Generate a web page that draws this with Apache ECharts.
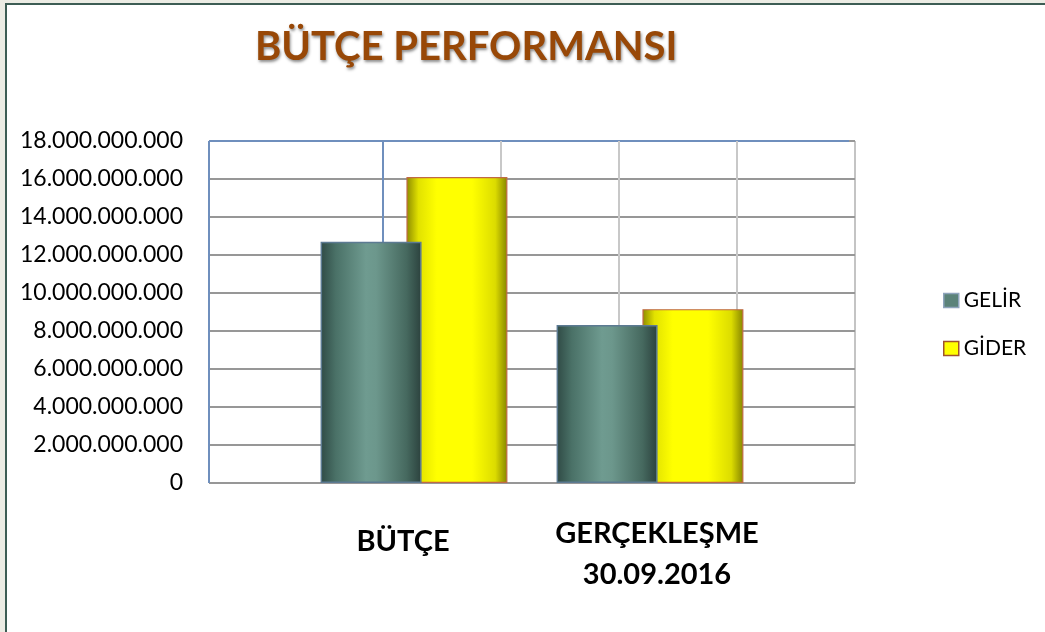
<!DOCTYPE html>
<html>
<head>
<meta charset="utf-8">
<title>BÜTÇE PERFORMANSI</title>
<script src="https://cdn.jsdelivr.net/npm/echarts@6/dist/echarts.min.js"></script>
<style>
  html, body { margin: 0; padding: 0; background: #ecece4; }
  #frame { position: absolute; left: 5px; top: 3px; right: 0; bottom: 0; background: #fff;
           border-left: 2px solid #3d5d54; border-top: 2px solid #3d5d54; }
  #chart-container { position: absolute; left: 0; top: 0; width: 1045px; height: 632px; }
</style>
</head>
<body>
<div id="frame"></div>
<div id="chart-container"></div>
<script>
var categories = ['BÜTÇE', 'GERÇEKLEŞME\n30.09.2016'];
var gelir = [12700000000, 8320000000];
var gider = [16100000000, 9150000000];
var yTicks = { min: 0, max: 18000000000, step: 2000000000 };

var dom = document.getElementById('chart-container');
var myChart = echarts.init(dom, null, { renderer: 'canvas', useDirtyRect: false });

function dotted(v) {
  return String(v).replace(/\B(?=(\d{3})+(?!\d))/g, '.');
}

var gridGray = '#979797';
var frameBlue = '#6f8fbd';

var tealFill = new echarts.graphic.LinearGradient(0, 0, 1, 0, [
  { offset: 0, color: '#2f4a45' },
  { offset: 0.15, color: '#4a7167' },
  { offset: 0.45, color: '#6f9b90' },
  { offset: 0.55, color: '#6c978c' },
  { offset: 0.85, color: '#46695f' },
  { offset: 1, color: '#2b413d' }
]);
var yellowFill = new echarts.graphic.LinearGradient(0, 0, 1, 0, [
  { offset: 0, color: '#8c8a00' },
  { offset: 0.12, color: '#e2e200' },
  { offset: 0.3, color: '#ffff00' },
  { offset: 0.65, color: '#ffff00' },
  { offset: 0.88, color: '#dcdc00' },
  { offset: 1, color: '#858400' }
]);

var option = {
  animation: false,
  title: {
    text: 'BÜTÇE PERFORMANSI',
    left: 250,
    top: 22,
    textStyle: {
      fontFamily: 'Lato',
      fontWeight: 'bold',
      fontSize: 40,
      color: '#984807',
      textShadowColor: 'rgba(0,0,0,0.45)',
      textShadowBlur: 3,
      textShadowOffsetX: 1,
      textShadowOffsetY: 2
    }
  },
  legend: {
    orient: 'vertical',
    left: 938,
    top: 285,
    itemWidth: 15,
    itemHeight: 14,
    itemGap: 27,
    icon: 'rect',
    textStyle: { fontFamily: 'Lato', fontSize: 21, color: '#000' },
    data: [
      { name: 'GELİR', itemStyle: { color: '#5b8379', borderColor: '#8ea4bc', borderWidth: 1.5 } },
      { name: 'GİDER', itemStyle: { color: '#ffff00', borderColor: '#a0522d', borderWidth: 1.5 } }
    ]
  },
  grid: [
    { left: 209, right: 190, top: 141, bottom: 149, containLabel: false },
    { left: 296, width: 472, top: 141, bottom: 149, containLabel: false },
    { left: 276, width: 508, top: 141, bottom: 149, containLabel: false }
  ],
  xAxis: [
    {
      gridIndex: 0,
      type: 'value',
      inverse: true,
      min: 0,
      max: 5.466,
      interval: 1,
      axisLabel: { show: false },
      axisTick: { show: false },
      axisLine: { show: false },
      splitLine: {
        show: true,
        lineStyle: {
          width: 2,
          color: ['#c4c4c4', '#c8c8c8', '#c8c8c8', '#c8c8c8', frameBlue, 'rgba(0,0,0,0)', frameBlue]
        }
      }
    },
    {
      gridIndex: 1,
      type: 'category',
      data: categories,
      show: false
    },
    {
      gridIndex: 2,
      type: 'category',
      data: categories,
      axisLine: { show: false },
      axisTick: { show: false },
      axisLabel: {
        interval: 0,
        hideOverlap: false,
        margin: 30,
        fontFamily: 'Lato',
        fontWeight: 'bold',
        fontSize: 29,
        lineHeight: 41,
        color: '#000',
        formatter: function (v) {
          return v.indexOf('\n') < 0 ? '{one|' + v + '}' : v;
        },
        rich: {
          one: { fontFamily: 'Lato', fontWeight: 'bold', fontSize: 29, lineHeight: 58, color: '#000' }
        }
      }
    }
  ],
  yAxis: [
    {
      gridIndex: 0,
      type: 'value',
      min: yTicks.min,
      max: yTicks.max,
      interval: yTicks.step,
      axisLine: { show: false },
      axisTick: { show: true, length: 6, lineStyle: { color: gridGray, width: 2 } },
      axisLabel: {
        margin: 26,
        fontFamily: 'Lato',
        fontSize: 23,
        color: '#000',
        formatter: dotted
      },
      splitLine: {
        show: true,
        lineStyle: {
          width: 2,
          color: [gridGray, gridGray, gridGray, gridGray, gridGray, gridGray, gridGray, gridGray, gridGray, frameBlue]
        }
      }
    },
    { gridIndex: 1, type: 'value', min: yTicks.min, max: yTicks.max, show: false },
    { gridIndex: 2, type: 'value', min: 0, max: 1, show: false }
  ],
  series: [
    {
      name: 'GELİR',
      type: 'bar',
      xAxisIndex: 1,
      yAxisIndex: 1,
      z: 4,
      barWidth: 101,
      barGap: '-15%',
      data: gelir,
      itemStyle: { color: tealFill, borderColor: '#5c7a92', borderWidth: 1.5 }
    },
    {
      name: 'GİDER',
      type: 'bar',
      xAxisIndex: 1,
      yAxisIndex: 1,
      z: 3,
      barWidth: 101,
      barGap: '-15%',
      data: gider,
      itemStyle: { color: yellowFill, borderColor: '#c06a45', borderWidth: 1.2 }
    }
  ]
};

if (option && typeof option === 'object') {
  myChart.setOption(option);
}

window.addEventListener('resize', myChart.resize);
</script>
</body>
</html>
